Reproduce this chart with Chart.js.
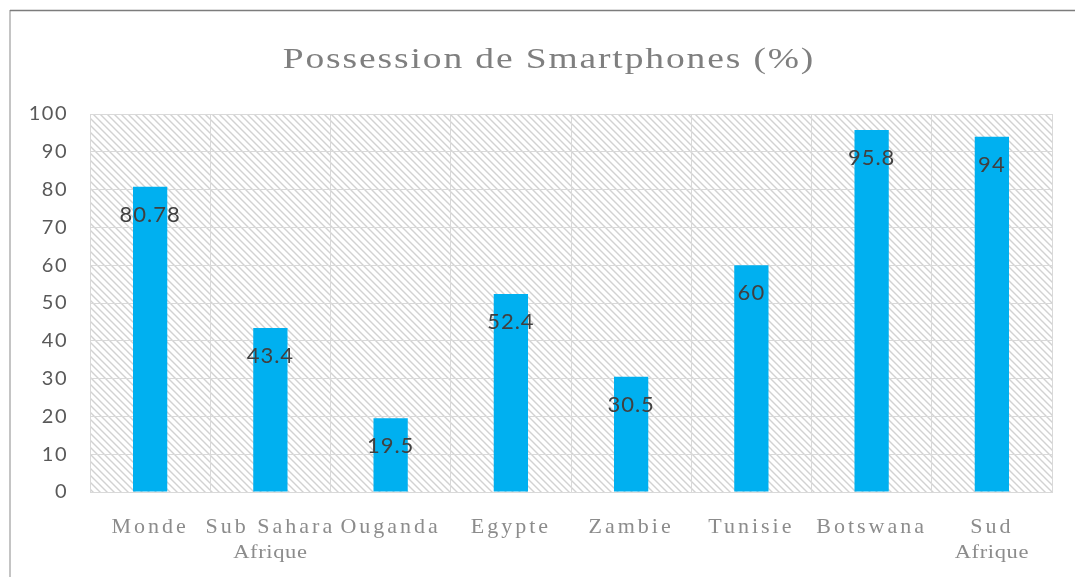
<!DOCTYPE html>
<html>
<head>
<meta charset="utf-8">
<script src="https://cdn.jsdelivr.net/npm/chart.js@4/dist/chart.umd.min.js"></script>
<style>
html,body{margin:0;padding:0;background:#fff;}
#wrap{width:1075px;height:577px;position:relative;}
</style>
</head>
<body>
<div id="wrap"><canvas id="c" width="1075" height="577"></canvas></div>
<script>
const titleText = 'Possession de Smartphones (%)';
const categories = ['Monde', 'Sub Sahara', 'Ouganda', 'Egypte', 'Zambie', 'Tunisie', 'Botswana', 'Sud'];
const subLabels = ['', 'Afrique', '', '', '', '', '', 'Afrique'];
const values = [80.78, 43.4, 19.5, 52.4, 30.5, 60, 95.8, 94];
const valueLabels = ['80.78', '43.4', '19.5', '52.4', '30.5', '60', '95.8', '94'];
const yMin = 0, yMax = 100, yStep = 10;

function hatchPattern(ctx) {
  const s = 7;
  const c = document.createElement('canvas');
  c.width = s; c.height = s;
  const g = c.getContext('2d');
  g.fillStyle = '#ffffff';
  g.fillRect(0, 0, s, s);
  g.strokeStyle = '#d2d2d2';
  g.lineWidth = 1.4;
  g.beginPath();
  g.moveTo(-1, -1); g.lineTo(s + 1, s + 1);
  g.moveTo(-1, s - 1); g.lineTo(1, s + 1);
  g.moveTo(s - 1, -1); g.lineTo(s + 1, 1);
  g.stroke();
  return ctx.createPattern(c, 'repeat');
}

function stretchedText(ctx, text, cx, cy, sx) {
  ctx.save();
  ctx.translate(cx, cy);
  ctx.scale(sx, 1);
  ctx.textAlign = 'center';
  ctx.textBaseline = 'middle';
  ctx.fillText(text, 0, 0);
  ctx.restore();
}

const decor = {
  id: 'decor',
  beforeDraw(chart) {
    const ctx = chart.ctx;
    const a = chart.chartArea;
    ctx.save();
    ctx.strokeStyle = '#c4c4c4';
    ctx.lineWidth = 2;
    ctx.beginPath(); ctx.moveTo(10, 10); ctx.lineTo(10, 577); ctx.stroke();
    ctx.strokeStyle = '#7c7c7c';
    ctx.lineWidth = 1.5;
    ctx.beginPath(); ctx.moveTo(10, 10.5); ctx.lineTo(1075, 10.5); ctx.stroke();
    ctx.fillStyle = hatchPattern(ctx);
    ctx.fillRect(a.left, a.top, a.right - a.left, a.bottom - a.top);
    ctx.fillStyle = '#7f7f7f';
    ctx.font = '30px "Liberation Serif", serif';
    ctx.letterSpacing = '1.5px';
    stretchedText(ctx, titleText, 549, 60, 1.25);
    ctx.restore();
    ctx.letterSpacing = '1.5px';
  },
  afterDatasetsDraw(chart) {
    const ctx = chart.ctx;
    const meta = chart.getDatasetMeta(0);
    ctx.save();
    ctx.fillStyle = '#404040';
    ctx.font = '22px Lato, "Open Sans", sans-serif';
    ctx.letterSpacing = '1px';
    ctx.textAlign = 'center';
    ctx.textBaseline = 'middle';
    meta.data.forEach((el, i) => {
      ctx.fillText(valueLabels[i], el.x, el.y + 28);
    });
    ctx.restore();
    ctx.letterSpacing = '3px';
  },
  afterDraw(chart) {
    const ctx = chart.ctx;
    const xs = chart.scales.x;
    ctx.save();
    ctx.fillStyle = '#8c8c8c';
    ctx.font = '18px "Liberation Serif", serif';
    ctx.letterSpacing = '0.5px';
    subLabels.forEach((t, i) => {
      if (t) stretchedText(ctx, t, xs.getPixelForValue(i), 553, 1.25);
    });
    ctx.restore();
    ctx.letterSpacing = '0px';
  }
};

new Chart(document.getElementById('c'), {
  type: 'bar',
  data: {
    labels: categories,
    datasets: [{
      data: values,
      backgroundColor: '#00B0F0',
      borderWidth: 0,
      categoryPercentage: 1,
      barPercentage: 0.285
    }]
  },
  options: {
    responsive: false,
    animation: false,
    events: [],
    layout: { padding: { top: 114, right: 23, bottom: 0, left: 0 } },
    plugins: { legend: { display: false }, title: { display: false }, tooltip: { enabled: false } },
    scales: {
      x: {
        grid: { color: '#d9d9d9', lineWidth: 1, drawTicks: false, offset: true },
        border: { color: '#d9d9d9' },
        ticks: {
          z: 1,
          color: '#8c8c8c',
          font: { family: '"Liberation Serif", serif', size: 22 },
          padding: 22,
          maxRotation: 0,
          autoSkip: false
        },
        afterFit(s) { s.height = 85; }
      },
      y: {
        min: yMin, max: yMax,
        grid: { color: '#d9d9d9', lineWidth: 1, drawTicks: false },
        border: { color: '#d9d9d9' },
        ticks: {
          stepSize: yStep,
          color: '#595959',
          font: { family: 'Lato, "Open Sans", sans-serif', size: 20 },
          padding: 22
        },
        afterFit(s) { s.width = 90; }
      }
    }
  },
  plugins: [decor]
});
</script>
</body>
</html>
